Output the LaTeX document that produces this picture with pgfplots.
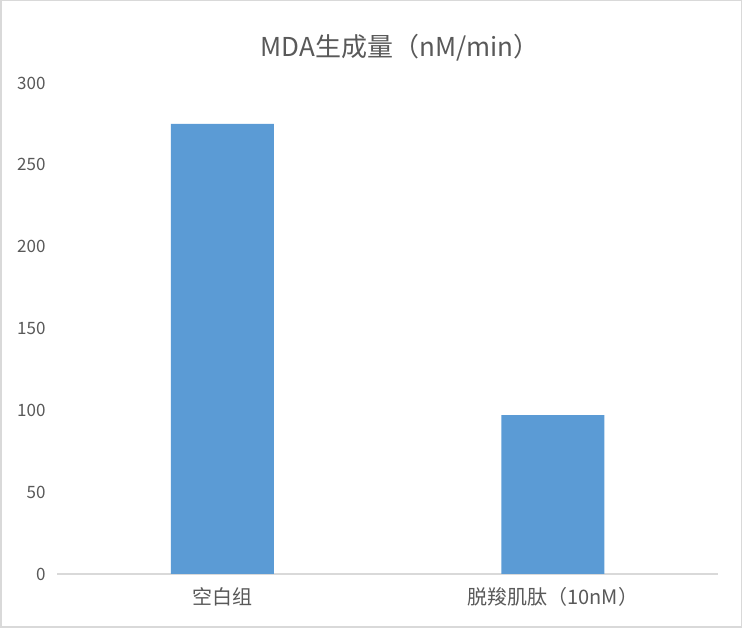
\documentclass[border=0pt]{standalone}
\usepackage{fontspec}
\setmainfont{Noto Sans CJK SC}
\usepackage{pgfplots}
\pgfplotsset{compat=1.18}

\definecolor{barblue}{HTML}{5B9BD5}
\definecolor{txtgray}{HTML}{595959}
\definecolor{linegray}{HTML}{D9D9D9}

\begin{document}
\begin{tikzpicture}[x=1pt,y=1pt]
\path[use as bounding box] (0,0) rectangle (742,628);
\draw[linegray, line width=1.5pt] (0.75,0.75) rectangle (741.25,627.25);

\begin{axis}[
  at={(57pt,54pt)}, anchor=south west,
  scale only axis, width=661pt, height=491pt,
  xmin=-0.5, xmax=1.5, ymin=0, ymax=300,
  xtick={0,1}, xticklabels={空白组, 脱羧肌肽（10nM）},
  ytick={0,50,...,300},
  axis x line*=bottom, axis y line*=left,
  x axis line style={-, draw=linegray, line width=1.3pt},
  y axis line style={draw=none},
  major tick length=0pt,
  tick label style={text=txtgray},
  yticklabel style={font=\fontsize{17}{17}\selectfont, xshift=-8pt},
  xticklabel style={font=\fontsize{20}{20}\selectfont, yshift=-10pt},
  /pgf/number format/assume math mode=true,
  ybar, bar width=103pt, bar shift=0pt,
  clip=false,
]
\addplot[fill=barblue, draw=none] coordinates {(0,275) (1,97)};
\end{axis}

\node[text=txtgray, font=\fontsize{26}{26}\selectfont] at (400,580) {MDA生成量（nM/min）};
\end{tikzpicture}
\end{document}
